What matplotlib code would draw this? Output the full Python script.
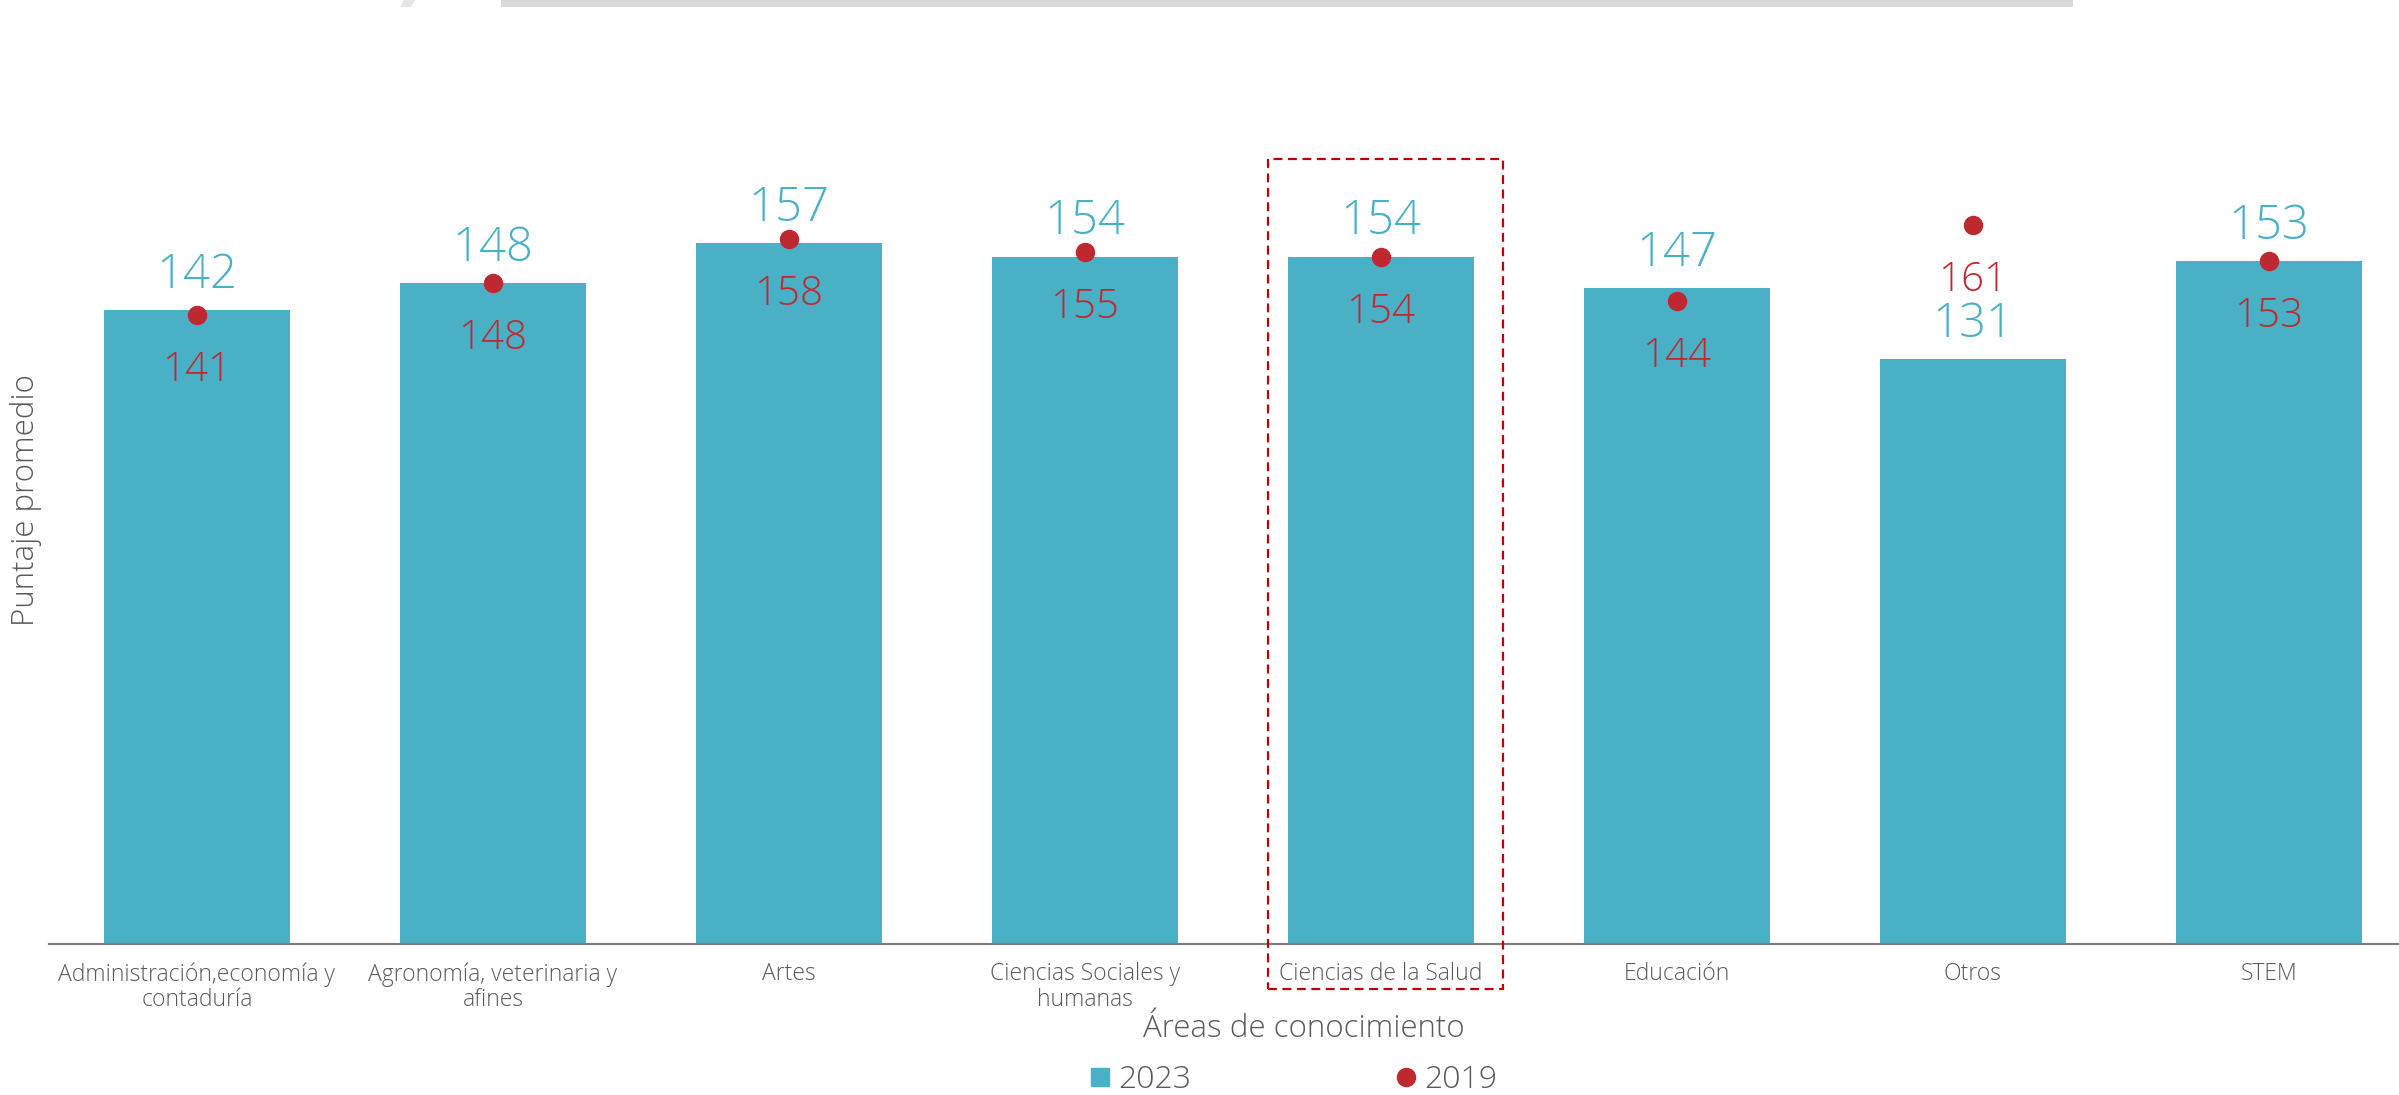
import matplotlib
matplotlib.use("Agg")
import matplotlib.pyplot as plt
from matplotlib.lines import Line2D
from matplotlib.patches import Rectangle, Polygon

plt.rcParams['font.family'] = ['Open Sans', 'DejaVu Sans']
FW = 'light'

categories = ["Administración,economía y\ncontaduría", "Agronomía, veterinaria y\nafines",
              "Artes", "Ciencias Sociales y\nhumanas", "Ciencias de la Salud",
              "Educación", "Otros", "STEM"]
values_2023 = [142, 148, 157, 154, 154, 147, 131, 153]
values_2019 = [141, 148, 158, 155, 154, 144, 161, 153]

TEAL = "#4AB0C5"
RED = "#C0282F"
GRAY = "#595959"

W, H = 2399, 1095
fig = plt.figure(figsize=(W/100, H/100), dpi=100)
ax = fig.add_axes([49/W, (H-944)/H, 1 - 49/W, 848/H])

x = list(range(len(categories)))
ax.bar(x, values_2023, width=0.63, color=TEAL, zorder=2)
ax.plot(x, values_2019, linestyle='none', marker='o', ms=13, color=RED, zorder=3)

for i, (v23, v19) in enumerate(zip(values_2023, values_2019)):
    ax.annotate(str(v23), (i, v23), xytext=(0, 16), textcoords='offset points',
                ha='center', va='baseline', fontsize=34, color=TEAL, fontweight=FW)
    ax.annotate(str(v19), (i, v19), xytext=(0, -47.5), textcoords='offset points',
                ha='center', va='baseline', fontsize=29, color=RED, fontweight=FW)

ax.set_xlim(-0.5, -0.5 + (W - 49) / 296.0)
ax.set_ylim(0, 190)
for s in ['left', 'right', 'top']:
    ax.spines[s].set_visible(False)
ax.spines['bottom'].set_color('#7F7F7F')
ax.spines['bottom'].set_linewidth(1.6)
ax.set_yticks([])
ax.set_xticks(x)
ax.set_xticklabels(categories, fontsize=16.5, color=GRAY, fontweight=FW, linespacing=1.1)
ax.tick_params(axis='x', length=0, pad=13)

# highlight box
ax.add_patch(Rectangle((3.618, -10.1), 0.794, 186.0, fill=False, edgecolor='#C00000',
                       linestyle=(0, (4, 2.5)), linewidth=1.6, clip_on=False, zorder=4))

fig.text(1304/W, (H-1037)/H, "Áreas de conocimiento", ha='center', va='baseline',
         fontsize=22.5, color=GRAY, fontweight=FW)
fig.text(26/W, (H-500)/H, "Puntaje promedio", ha='center', va='center', rotation=90,
         fontsize=22.5, color=GRAY, fontweight=FW)

handles = [Line2D([], [], linestyle='none', marker='s', ms=13, color=TEAL),
           Line2D([], [], linestyle='none', marker='o', ms=13, color=RED)]
leg = fig.legend(handles, ['2023', '2019'], loc='center', bbox_to_anchor=(1294/W, (H-1080)/H),
                 ncol=2, frameon=False, fontsize=23, handlelength=0.55, handletextpad=0.3,
                 columnspacing=6.45, borderpad=0, borderaxespad=0)
for t in leg.get_texts():
    t.set_color(GRAY)
    t.set_fontweight(FW)

# top decorative strip and shadow fragment
fig.patches.append(Rectangle((501/W, 1 - 7/H), 1572/W, 7/H, transform=fig.transFigure,
                             facecolor='#D9D9D9', edgecolor='none'))
fig.patches.append(Polygon([(400/W, 1 - 7/H), (404/W, 1), (415/W, 1), (411/W, 1 - 7/H)],
                           closed=True, transform=fig.transFigure,
                           facecolor='#E6E6E6', edgecolor='none'))

fig.savefig("out.png", dpi=100)
